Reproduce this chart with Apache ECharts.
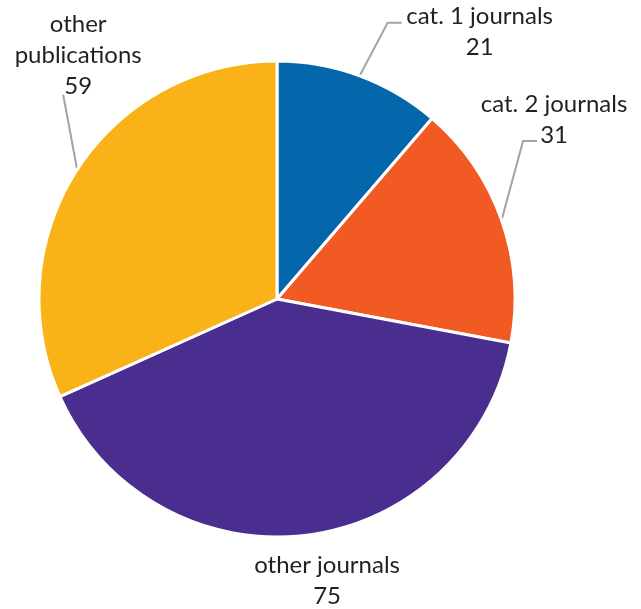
<!DOCTYPE html>
<html><head><meta charset="utf-8">
<script src="https://cdn.jsdelivr.net/npm/echarts@6/dist/echarts.min.js"></script>
<style>html,body{margin:0;padding:0;background:#fff}#c{width:641px;height:609px}</style>
</head><body><div id="c"></div>
<script>
// ---- data ----
const categories = ['cat. 1 journals', 'cat. 2 journals', 'other journals', 'other\npublications'];
const values = [21, 31, 75, 59];

// ---- styles ----
const colors = ['#0467ac', '#f15a22', '#4a2e8f', '#f9b218'];
// label guide offsets, relative to each slice's outer edge point given by ECharts
const guides = [
  { bend: [28, -53], end: [42, -53], text: [78, 8.5], line: true },
  { bend: [21.5, -79], end: [35.5, -79], text: [17, -21.5], line: true },
  { bend: [0, 0], end: [0, 0], text: [22, 45], line: false },
  { bend: [-14, -75], end: [-14, -75], text: [15, -39], line: true }
];

const chart = echarts.init(document.getElementById('c'), null, { renderer: 'canvas' });
chart.setOption({
  animation: false,
  backgroundColor: '#ffffff',
  series: [{
    type: 'pie',
    center: [277, 299],
    radius: 238,
    startAngle: 90,
    clockwise: true,
    avoidLabelOverlap: false,
    itemStyle: { borderColor: '#ffffff', borderWidth: 3 },
    label: {
      show: true,
      position: 'outside',
      formatter: p => p.name + '\n' + p.value,
      fontFamily: 'Lato',
      fontSize: 24,
      lineHeight: 31,
      color: '#231f20',
      align: 'center',
      width: 260,
      overflow: 'none'
    },
    labelLine: {
      show: true,
      length: 15,
      length2: 15,
      smooth: false,
      lineStyle: { color: '#a2a4a6', width: 2 }
    },
    labelLayout: function (params) {
      const g = guides[params.dataIndex];
      const pts = params.labelLinePoints;
      if (!pts || !g) return {};
      const e = pts[0];
      const b = [e[0] + g.bend[0], e[1] + g.bend[1]];
      const n = [e[0] + g.end[0], e[1] + g.end[1]];
      return {
        x: n[0] + g.text[0],
        y: n[1] + g.text[1],
        align: 'center',
        verticalAlign: 'middle',
        labelLinePoints: g.line ? [e, b, n] : [e, e, e]
      };
    },
    data: categories.map((c, i) => ({ name: c, value: values[i], itemStyle: { color: colors[i] } }))
  }]
});
</script>
</body></html>
